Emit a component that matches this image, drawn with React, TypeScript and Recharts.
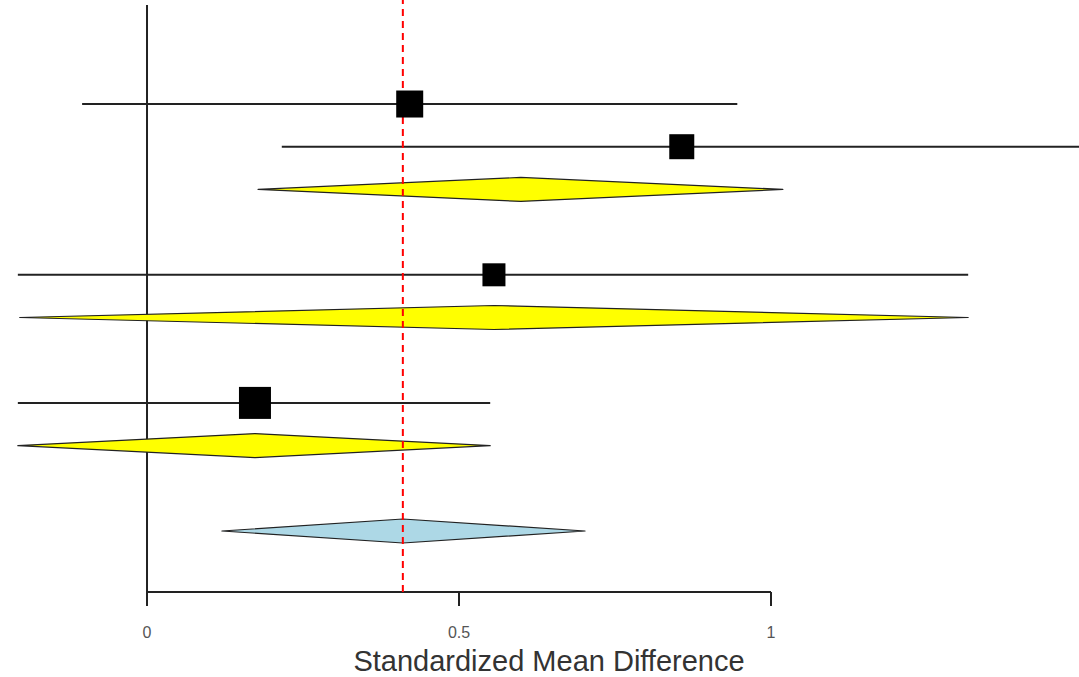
import React from "react";
import {
  ScatterChart,
  Scatter,
  XAxis,
  YAxis,
  ReferenceLine,
} from "recharts";

// Individual studies: estimate, CI bounds, relative weight and plotting row (rows counted from the bottom)
const studyRows = [11, 10, 7, 4];
const studyEstimates = [0.421, 0.857, 0.556, 0.173];
const studyLower = [-0.104, 0.216, -0.207, -0.207];
const studyUpper = [0.946, 1.75, 1.316, 0.55];
const studyWeights = [27, 25, 23, 32];

// Subgroup and overall pooled estimates (diamonds)
const summaryRows = [9, 6, 3, 1];
const summaryEstimates = [0.599, 0.556, 0.173, 0.41];
const summaryLower = [0.178, -0.204, -0.207, 0.12];
const summaryUpper = [1.019, 1.316, 0.55, 0.702];
const summaryKinds = ["subgroup", "subgroup", "subgroup", "overall"];

// Dashed line at the overall pooled effect
const pooledEffect = 0.41;

const xTicks = [0, 0.5, 1];
const xTickLabels = ["0", "0.5", "1"];

const X_DOMAIN: [number, number] = [-0.2356, 1.4936];
const Y_DOMAIN: [number, number] = [-0.4286, 13.436];
const Y_BOTTOM = Y_DOMAIN[0];
const Y_TOP_ZERO = 13.318;

const maxWeight = Math.max(...studyWeights);

const studyPoints = studyRows.map((r, i) => ({
  x: studyEstimates[i],
  y: r,
  w: studyWeights[i],
}));

const SquareShape = (props: any) => {
  const { cx, cy, payload } = props;
  if (cx == null || cy == null) return null;
  const s = 32 * (payload.w / maxWeight);
  return <rect x={cx - s / 2} y={cy - s / 2} width={s} height={s} fill="#000" />;
};

const makeDiamond = (est: number, lo: number, hi: number, fill: string) => (props: any) => {
  const { x1, y1, x2 } = props;
  if (x1 == null || x2 == null) return null;
  const cx = x1 + ((est - lo) / (hi - lo)) * (x2 - x1);
  const h = 12;
  const pts = `${x1},${y1} ${cx},${y1 - h} ${x2},${y1} ${cx},${y1 + h}`;
  return <polygon points={pts} fill={fill} stroke="#222" strokeWidth={1.2} strokeLinejoin="round" />;
};

const TickShape = (props: any) => {
  const { x, y, payload } = props;
  const idx = xTicks.indexOf(payload.value);
  const top = y - 8;
  return (
    <g>
      <line x1={x} y1={top} x2={x} y2={top + 14} stroke="#222" strokeWidth={2} />
      <text
        x={x}
        y={top + 46}
        textAnchor="middle"
        fontSize={16}
        fill="#555"
        fontFamily="Liberation Sans, Arial, sans-serif"
      >
        {idx >= 0 ? xTickLabels[idx] : payload.value}
      </text>
    </g>
  );
};

export default function App() {
  return (
    <div style={{ position: "absolute", left: 0, top: 0, background: "#fff" }}>
      <ScatterChart
        width={1079}
        height={677}
        margin={{ top: 0, right: 0, bottom: 0, left: 0 }}
      >
        <XAxis
          type="number"
          dataKey="x"
          domain={X_DOMAIN}
          allowDataOverflow
          ticks={xTicks}
          axisLine={false}
          tickLine={false}
          tick={<TickShape />}
          height={85}
          interval={0}
        />
        <YAxis type="number" dataKey="y" domain={Y_DOMAIN} allowDataOverflow hide />

        {/* line of no effect */}
        <ReferenceLine
          segment={[
            { x: 0, y: Y_BOTTOM },
            { x: 0, y: Y_TOP_ZERO },
          ]}
          stroke="#222"
          strokeWidth={2}
          ifOverflow="visible"
        />

        {/* x axis line from 0 to 1 */}
        <ReferenceLine
          segment={[
            { x: xTicks[0], y: Y_BOTTOM },
            { x: xTicks[xTicks.length - 1], y: Y_BOTTOM },
          ]}
          stroke="#222"
          strokeWidth={2}
          ifOverflow="visible"
        />

        {/* confidence intervals of individual studies */}
        {studyRows.map((r, i) => (
          <ReferenceLine
            key={`ci-${i}`}
            segment={[
              { x: studyLower[i], y: r },
              { x: studyUpper[i], y: r },
            ]}
            stroke="#222"
            strokeWidth={2}
            ifOverflow="hidden"
          />
        ))}

        {/* pooled diamonds */}
        {summaryRows.map((r, i) => (
          <ReferenceLine
            key={`dia-${i}`}
            segment={[
              { x: summaryLower[i], y: r },
              { x: summaryUpper[i], y: r },
            ]}
            ifOverflow="visible"
            shape={makeDiamond(
              summaryEstimates[i],
              summaryLower[i],
              summaryUpper[i],
              summaryKinds[i] === "overall" ? "#ADD8E6" : "#FFFF00"
            )}
          />
        ))}

        {/* overall effect reference */}
        <ReferenceLine
          x={pooledEffect}
          stroke="#ff0000"
          strokeWidth={2}
          strokeDasharray="7 5"
          ifOverflow="visible"
        />

        <Scatter data={studyPoints} shape={<SquareShape />} isAnimationActive={false} />

        <text
          x={549}
          y={671}
          textAnchor="middle"
          fontSize={29}
          fill="#333"
          fontFamily="Liberation Sans, Arial, sans-serif"
        >
          Standardized Mean Difference
        </text>
      </ScatterChart>
    </div>
  );
}
